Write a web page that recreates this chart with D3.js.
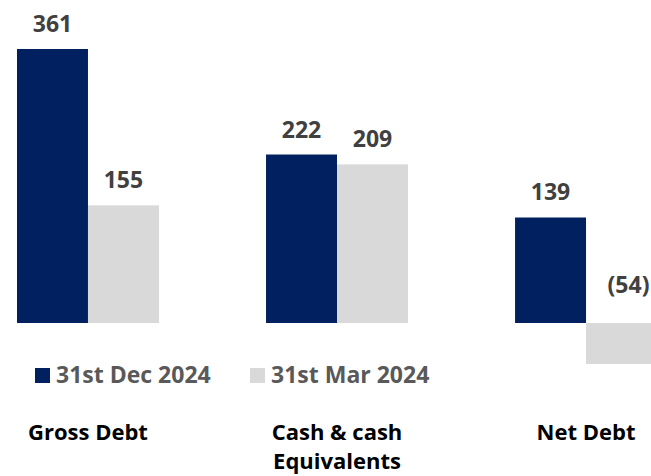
<!DOCTYPE html>
<html>
<head>
<meta charset="utf-8">
<script src="https://cdn.jsdelivr.net/npm/d3@7"></script>
<style>
  body { margin: 0; background: #fff; }
  svg { display: block; font-family: "Open Sans", "Liberation Sans", sans-serif; font-weight: 700; }
</style>
</head>
<body>
<script>
// chart data
var categories = [["Gross Debt"], ["Cash & cash", "Equivalents"], ["Net Debt"]];
var seriesNames = ["31st Dec 2024", "31st Mar 2024"];
var dec2024 = [361, 222, 139];
var mar2024 = [155, 209, -54];
var colors = ["#002060", "#D9D9D9"];

var width = 651, height = 476;

var svg = d3.select('body')
	.append('svg')
	.attr('width', width)
	.attr('height', height);

// group scale (the last group runs off the right edge, as in the original)
var x0 = d3.scaleBand()
	.domain(d3.range(categories.length))
	.range([17, 657])
	.paddingInner(0.43)
	.paddingOuter(0);

var x1 = d3.scaleBand()
	.domain(d3.range(seriesNames.length))
	.range([0, x0.bandwidth()]);

var y = d3.scaleLinear()
	.domain([0, 361])
	.range([323, 49]);

var rows = [];
categories.forEach(function(c, i){
	rows.push({cat: i, s: 0, v: dec2024[i]});
	rows.push({cat: i, s: 1, v: mar2024[i]});
});

// bars
svg.selectAll('.bar')
	.data(rows)
	.enter().append('rect')
	.attr('class', 'bar')
	.attr('x', function(d){ return x0(d.cat) + x1(d.s); })
	.attr('y', function(d){ return y(Math.max(0, d.v)); })
	.attr('width', x1.bandwidth())
	.attr('height', function(d){ return Math.abs(y(d.v) - y(0)); })
	.style('fill', function(d){ return colors[d.s]; });

// value labels, negatives shown in brackets above the zero line
svg.selectAll('.val')
	.data(rows)
	.enter().append('text')
	.attr('class', 'val')
	.attr('x', function(d){ return x0(d.cat) + x1(d.s) + x1.bandwidth() / 2 + (d.v < 0 ? 7 : 0); })
	.attr('y', function(d){ return d.v < 0 ? y(0) - 30 : y(d.v) - 17; })
	.attr('text-anchor', 'middle')
	.style('font-size', '23px')
	.style('fill', '#404040')
	.text(function(d){ return d.v < 0 ? '(' + Math.abs(d.v) + ')' : d.v; });

// legend
var legendX = [35, 250];
var legend = svg.selectAll('.legend')
	.data(seriesNames)
	.enter().append('g')
	.attr('class', 'legend')
	.attr('transform', function(d, i){ return 'translate(' + legendX[i] + ',368)'; });

legend.append('rect')
	.attr('width', 15)
	.attr('height', 15)
	.style('fill', function(d, i){ return colors[i]; });

legend.append('text')
	.attr('x', 21)
	.attr('y', 15)
	.style('font-size', '23px')
	.style('fill', '#595959')
	.text(function(d){ return d; });

// category labels
var catLabel = svg.selectAll('.cat')
	.data(categories)
	.enter().append('text')
	.attr('class', 'cat')
	.attr('text-anchor', 'middle')
	.attr('x', function(d, i){ return x0(i) + x0.bandwidth() / 2; })
	.attr('y', 440)
	.style('font-size', '22px')
	.style('fill', '#000');

catLabel.selectAll('tspan')
	.data(function(d){ return d; })
	.enter().append('tspan')
	.attr('x', function(){ return this.parentNode.getAttribute('x'); })
	.attr('dy', function(d, i){ return i ? 29 : 0; })
	.text(function(d){ return d; });
</script>
</body>
</html>
